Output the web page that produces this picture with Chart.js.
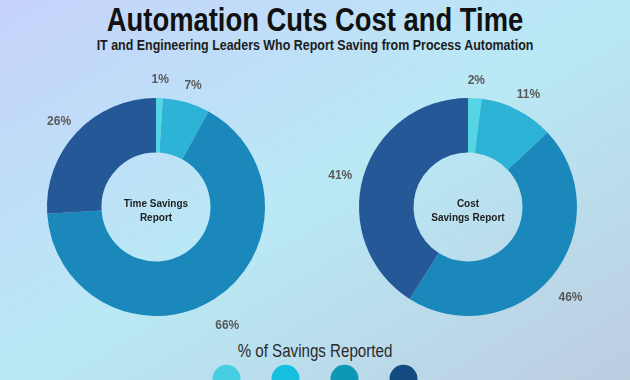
<!DOCTYPE html>
<html>
<head>
<meta charset="utf-8">
<script src="https://cdn.jsdelivr.net/npm/chart.js@4.4.0/dist/chart.umd.min.js"></script>
<style>
html,body{margin:0;padding:0;width:630px;height:380px;overflow:hidden;}
body{position:relative;background:linear-gradient(to bottom right,#c6d2fb 0%,#b9e9f5 50%,#bccde0 100%);font-family:'Liberation Sans',sans-serif;}
.txt{position:absolute;left:0;width:630px;text-align:center;white-space:nowrap;transform-origin:315px 50%;}
#title{top:3px;font-size:33px;line-height:33px;font-weight:bold;color:#111;transform:scaleX(0.83);}
#subtitle{top:37px;font-size:15px;line-height:15px;font-weight:bold;color:#1d1d1d;transform:scaleX(0.83);}
#legtitle{top:342px;font-size:18px;line-height:18px;color:#2a2a2a;transform:scaleX(0.84);}
canvas{position:absolute;}
#c1{left:-4px;top:47px;}
#c2{left:308px;top:47px;}
#c3{left:4.5px;top:348px;}
</style>
</head>
<body>
<div id="title" class="txt">Automation Cuts Cost and Time</div>
<div id="subtitle" class="txt">IT and Engineering Leaders Who Report Saving from Process Automation</div>
<div id="legtitle" class="txt">% of Savings Reported</div>
<canvas id="c1" width="320" height="320" style="width:320px;height:320px"></canvas>
<canvas id="c2" width="320" height="320" style="width:320px;height:320px"></canvas>
<canvas id="c3" width="630" height="80" style="width:630px;height:80px"></canvas>
<script>
const categories = ['Category 1', 'Category 2', 'Category 3', 'Category 4'];
const timeSavings = [1, 7, 66, 26];
const costSavings = [2, 11, 46, 41];
const timeCenterLabel = ['Time Savings', 'Report'];
const costCenterLabel = ['Cost', 'Savings Report'];

const sliceColors = ['#55d6e4', '#2db3d6', '#1b88bb', '#245896'];
const legendColors = ['#45cfe0', '#14bfe0', '#0b97b5', '#134a80'];

const sliceLabels = {
  id: 'sliceLabels',
  afterDatasetsDraw(chart, args, opts) {
    const ctx = chart.ctx;
    const meta = chart.getDatasetMeta(0);
    const values = chart.data.datasets[0].data;
    ctx.save();
    ctx.textAlign = 'center';
    ctx.textBaseline = 'middle';
    ctx.font = 'bold 12px "Liberation Sans"';
    ctx.fillStyle = '#595959';
    let cx = 0, cy = 0;
    meta.data.forEach((arc, i) => {
      const p = arc.getProps(['startAngle', 'endAngle', 'outerRadius', 'x', 'y'], true);
      const mid = (p.startAngle + p.endAngle) / 2;
      const r = p.outerRadius + opts.gap;
      cx = p.x; cy = p.y;
      ctx.fillText(values[i] + '%', p.x + Math.cos(mid) * r, p.y + Math.sin(mid) * r + opts.dy);
    });
    ctx.font = 'bold 10px "Liberation Sans"';
    ctx.fillStyle = '#1e1e1e';
    const lines = opts.center;
    lines.forEach((line, k) => {
      ctx.fillText(line, cx, cy + 4 + (k - (lines.length - 1) / 2) * 13.5);
    });
    ctx.restore();
  }
};

function makeDoughnut(id, values, center) {
  return new Chart(document.getElementById(id), {
    type: 'doughnut',
    data: {
      labels: categories,
      datasets: [{
        data: values,
        backgroundColor: sliceColors,
        borderWidth: 0,
        hoverOffset: 0
      }]
    },
    options: {
      responsive: false,
      animation: false,
      cutout: '50%',
      layout: { padding: 51 },
      plugins: {
        legend: { display: false },
        tooltip: { enabled: false },
        sliceLabels: { gap: 24, dy: 6, center: center }
      }
    },
    plugins: [sliceLabels]
  });
}

makeDoughnut('c1', timeSavings, timeCenterLabel);
makeDoughnut('c2', costSavings, costCenterLabel);

new Chart(document.getElementById('c3'), {
  type: 'bar',
  data: {
    labels: [''],
    datasets: categories.map((c, i) => ({ label: c, data: [], backgroundColor: legendColors[i] }))
  },
  options: {
    responsive: false,
    animation: false,
    layout: { padding: 0 },
    scales: { x: { display: false }, y: { display: false } },
    plugins: {
      tooltip: { enabled: false },
      legend: {
        display: true,
        position: 'top',
        onClick: null,
        labels: {
          usePointStyle: true,
          pointStyle: 'circle',
          pointStyleWidth: 28,
          boxHeight: 20,
          padding: 21,
          font: { size: 20 },
          generateLabels(chart) {
            return chart.data.datasets.map((ds, i) => ({
              text: '',
              fillStyle: legendColors[i],
              strokeStyle: legendColors[i],
              lineWidth: 0,
              pointStyle: 'circle',
              datasetIndex: i,
              hidden: false
            }));
          }
        }
      }
    }
  }
});
</script>
</body>
</html>
